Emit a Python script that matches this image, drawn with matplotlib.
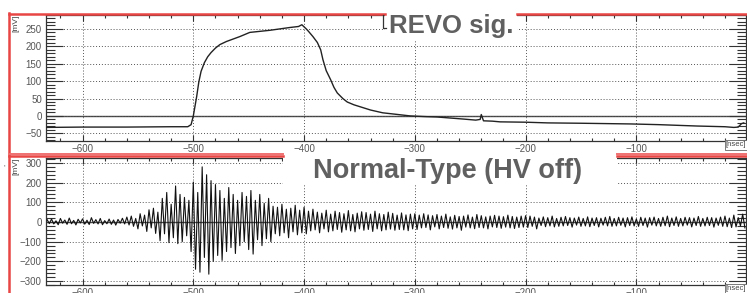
import numpy as np
import matplotlib
matplotlib.use("Agg")
import matplotlib.pyplot as plt
from matplotlib.lines import Line2D
from matplotlib.patches import Rectangle
from matplotlib.ticker import MultipleLocator

plt.rcParams['font.family'] = ['Liberation Sans', 'DejaVu Sans']

# REVO signal (top)
revo_ns = [-633, -600, -560, -520, -505, -502, -500, -497, -495, -493, -490, -487, -484, -480,
           -476, -470, -458, -449, -440, -431, -422, -413, -405, -402, -400, -398, -396, -392,
           -388, -385, -383, -380, -376, -373, -370, -365, -361, -355, -349, -340, -329, -315,
           -304, -290, -280, -268, -256, -245, -241, -240, -238, -230, -223, -200, -180, -150,
           -105, -80, -45, -20, -12, -8, -5, -3]
revo_mv = [-33, -32, -32, -31, -31, -25, 0, 55, 98, 128, 153, 170, 182, 195,
           205, 214, 228, 240, 243, 246, 250, 254, 257, 262, 256, 250, 243, 228,
           211, 190, 162, 130, 104, 82, 66, 50, 40, 32, 26, 17, 9, 4,
           0, -2, -3, -6, -9, -12, -10, 4, -14, -15, -17, -18, -20, -21,
           -23, -25, -29, -31, -33, -32, -22, -20]

# Normal-Type (HV off), one reading every 2 ns starting at -632 ns
normal_start_ns = -632
normal_step_ns = 2
normal_mv = [
    12, -8, 15, -10, 6, -14, 18, -6, 10, -12, 20, -9, 8, -15, 14, -5, 16, -11, 9, -13,
    22, -7, 12, -10, 18, -14, 7, -9, 15, -12, 10, -16, 13, -6, 19, -10,
    25, -15, 30, -22, 18, -35, 42, -20, 35, -48, 62, -30, 70, -58, 50,
    -95, 120, -60, 150, -105, 90, -80, 183, -110, 140,
    -100, 125, -70, 110, -150,
    203, -240, 150, -255, 280, -180, 240, -265, 210, -200, 190,
    -170, 160, -195, 120, -150, 175, -130, 140, -160, 110, -120, 150, -100, 130, -140,
    160, -163, 110, -90, 140, -120, 95, -85, 120, -100,
    80, -60, 75, -70, 90, -55, 65, -80, 70, -50, 85, -65, 60, -55, 75,
    -60, 55, -45, 65, -40, 50, -55, 45, -35, 60, -50, 40, -45, 55, -38, 48, -52, 42, -40, 58,
    -45, 38, -50, 45, -35, 52, -42, 48, -38, 40, -48, 55, -35, 42, -45, 38, -40, 50, -36, 44,
    -42, 35, -38, 46, -40, 36, -44, 40, -35, 42,
    -38, 35, -30, 42, -28, 36, -40, 32, -25, 38, -35, 30, -28, 40, -32, 26, -36, 34, -30, 28,
    -42, 30, -26, 36, -30, 25, -34, 38, -28, 32, -30, 26, -35, 30, -25, 34, -28, 30, -32, 27,
    -26, 35, -30, 28, -33, 25, -28, 30, -26, 32,
    -28, 30, -22, 25, -35, 20, -18, 26, -24, 22, -20, 30, -25, 18, -22, 24, -20, 28, -18, 22,
    -26, 20, -16, 25, -22, 18, -20, 26, -24, 20, -18, 22, -25, 19, -16, 24, -20, 28, -22, 18,
    -20, 24, -17, 20, -25, 22, -18, 26, -20, 16, -22, 24, -18, 20, -26, 22, -16, 25, -20, 18,
    -22, 24, -19, 30, -24, 20, -18, 26, -22, 18, -20, 24, -16, 22, -25, 20, -18, 28, -22, 18,
    -20, 24, -18, 22, -26, 20, -17, 25, -22, 30, -24, 20, -28, 35, -25, 22, -20, 40, -30,
]
normal_ns = normal_start_ns + normal_step_ns * np.arange(len(normal_mv))

W, H = 747, 293
fig = plt.figure(figsize=(W / 100, H / 100), dpi=100, facecolor='white')


def fx(px):
    return px / W


def fy(py):
    return 1 - py / H


def style_axes(ax, ymajor, yminor):
    ax.set_xlim(-633, -1)
    ax.xaxis.set_major_locator(MultipleLocator(100))
    ax.xaxis.set_minor_locator(MultipleLocator(20))
    ax.yaxis.set_major_locator(MultipleLocator(ymajor))
    ax.yaxis.set_minor_locator(MultipleLocator(yminor))
    ax.tick_params(axis='both', which='both', direction='in', colors='#333333',
                   labelcolor='#555555', labelsize=7, width=0.8)
    ax.tick_params(axis='y', which='major', length=12, left=True, right=True, pad=3)
    ax.tick_params(axis='y', which='minor', length=6.5, left=True, right=True)
    ax.tick_params(axis='x', which='major', length=4.3, top=True, bottom=True, pad=2)
    ax.tick_params(axis='x', which='minor', length=2.2, top=True, bottom=True)
    ax.grid(True, which='major', color='#555555', linestyle=(0, (1, 2)), linewidth=0.7)
    ax.axhline(0, color='#444444', linewidth=1.0, zorder=1)
    for s in ax.spines.values():
        s.set_color('#333333')
        s.set_linewidth(0.9)


ax1 = fig.add_axes([fx(46), fy(141), fx(700), 126 / H])
ax1.plot(revo_ns, revo_mv, color='#222222', linewidth=1.0, zorder=3)
ax1.set_ylim(-72, 290)
style_axes(ax1, 50, 10)

ax2 = fig.add_axes([fx(46), fy(285), fx(700), 127 / H])
ax2.plot(normal_ns, normal_mv, color='#111111', linewidth=0.8, zorder=3)
ax2.set_ylim(-320, 325)
style_axes(ax2, 100, 20)

# unit labels
for ytop in (15, 158):
    fig.text(fx(16), fy(ytop), '[mV]', rotation=90, fontsize=6, color='#444444',
             ha='center', va='top')
for ybot in (141, 285):
    fig.text(fx(736), fy(ybot + 4), '[nsec]', fontsize=5.5, color='#444444',
             ha='center', va='center',
             bbox=dict(boxstyle='square,pad=0.15', fc='white', ec='#666666', lw=0.6))

# white boxes behind the pasted titles
fig.add_artist(Rectangle((fx(385), fy(40)), fx(132), 28 / H, transform=fig.transFigure,
                         fc='white', ec='none'))
fig.add_artist(Rectangle((fx(283), fy(185)), fx(334), 31 / H, transform=fig.transFigure,
                         fc='white', ec='none'))

# red panel frames
red = '#e84545'
fig.add_artist(Line2D([fx(9), fx(9)], [fy(13), fy(293)], color=red, lw=1.8))
fig.add_artist(Line2D([fx(9), fx(385)], [fy(13.5), fy(13.5)], color=red, lw=1.8))
fig.add_artist(Line2D([fx(517), fx(747)], [fy(13.5), fy(13.5)], color=red, lw=1.8))
fig.add_artist(Line2D([fx(9), fx(283)], [fy(154), fy(154)], color='#f07070', lw=1.4))
fig.add_artist(Line2D([fx(617), fx(747)], [fy(154), fy(154)], color='#f07070', lw=1.4))
fig.add_artist(Line2D([fx(9), fx(283)], [fy(156), fy(156)], color=red, lw=1.8))
fig.add_artist(Line2D([fx(617), fx(747)], [fy(156), fy(156)], color=red, lw=1.8))
fig.add_artist(Line2D([fx(383), fx(383), fx(386)], [fy(15), fy(28), fy(28)],
                      color='#333333', lw=0.9))

# panel titles
fig.text(fx(389), fy(26), 'REVO sig.', fontsize=18.5, fontweight='bold', color='#606060',
         ha='left', va='center')
fig.text(fx(313), fy(171), 'Normal-Type (HV off)', fontsize=19.5, fontweight='bold',
         color='#606060', ha='left', va='center')

fig.text(fx(4), fy(168), "'", fontsize=6, color='#555555', ha='center', va='center')

fig.savefig('out.png', dpi=100, facecolor='white')
